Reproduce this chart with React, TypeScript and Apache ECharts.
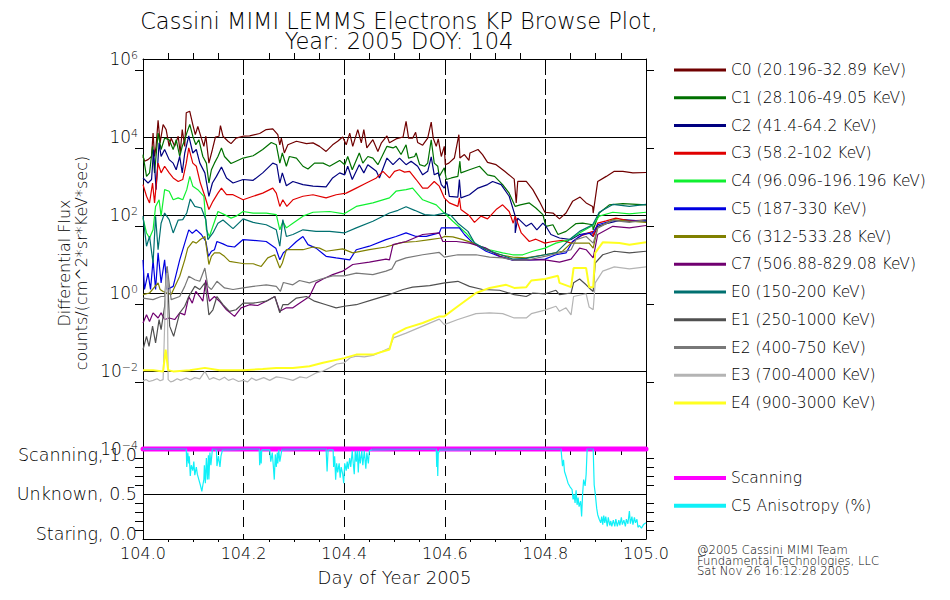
import React, { useEffect, useRef } from "react";
import * as echarts from "echarts";

type P = [number, number];

// Each pair: [fraction of day after DOY 104, log10 of differential flux]
const c0: P[] = [[.000,3.50],[.003,3.38],[.010,3.42],[.017,3.50],[.020,4.10],[.023,3.50],[.026,3.76],[.030,4.43],[.034,3.85],[.040,4.32],[.046,4.19],[.052,3.76],[.056,3.97],[.063,3.76],[.070,4.02],[.074,3.59],[.078,4.19],[.083,3.76],[.086,4.62],[.093,4.66],[.099,4.32],[.104,4.06],[.109,4.27],[.116,3.97],[.121,3.76],[.125,4.02],[.131,3.33],[.138,3.68],[.144,4.00],[.151,4.02],[.154,4.29],[.159,4.02],[.169,3.89],[.175,3.83],[.185,3.97],[.199,4.02],[.212,4.03],[.232,4.09],[.245,4.19],[.258,4.21],[.268,4.06],[.272,3.80],[.275,3.97],[.281,3.59],[.288,3.80],[.305,3.89],[.325,3.83],[.338,3.85],[.351,3.76],[.364,3.63],[.377,3.80],[.387,3.89],[.397,4.00],[.404,3.80],[.411,4.10],[.417,3.76],[.427,4.19],[.434,3.85],[.439,4.19],[.445,3.72],[.457,3.93],[.467,3.63],[.474,3.85],[.485,4.03],[.490,3.85],[.503,3.95],[.517,4.00],[.523,4.40],[.528,3.97],[.536,3.97],[.542,4.12],[.546,3.86],[.556,3.79],[.566,3.97],[.573,4.38],[.577,3.97],[.583,3.76],[.587,3.95],[.593,3.50],[.599,3.76],[.601,3.29],[.608,3.33],[.619,3.46],[.628,4.06],[.630,3.46],[.639,3.55],[.648,3.40],[.650,3.59],[.666,3.68],[.675,3.55],[.685,3.35],[.702,3.29],[.719,3.12],[.738,2.92],[.742,2.31],[.745,2.86],[.762,2.86],[.775,2.65],[.788,2.35],[.799,2.07],[.815,2.05],[.828,1.90],[.841,2.05],[.854,2.35],[.869,2.46],[.881,2.31],[.894,2.22],[.895,2.05],[.904,2.86],[.921,2.99],[.937,3.12],[.954,3.12],[.974,3.08],[1.0,3.09]];
const c1: P[] = [[.000,3.55],[.007,2.99],[.013,3.08],[.019,3.76],[.023,3.08],[.030,4.10],[.036,3.68],[.043,3.97],[.052,3.93],[.060,3.68],[.066,3.93],[.073,3.50],[.078,3.76],[.083,3.93],[.087,4.10],[.093,4.32],[.099,4.02],[.105,3.80],[.111,3.93],[.119,3.50],[.126,3.33],[.131,2.82],[.136,3.16],[.142,3.33],[.149,3.50],[.156,3.72],[.162,3.50],[.175,3.32],[.185,3.38],[.199,3.46],[.219,3.52],[.238,3.68],[.255,3.86],[.265,3.80],[.272,3.33],[.277,3.59],[.285,3.25],[.291,3.50],[.305,3.46],[.318,3.25],[.328,3.18],[.341,3.33],[.358,3.33],[.371,3.25],[.391,3.40],[.401,3.29],[.407,3.50],[.416,3.16],[.430,3.59],[.437,3.33],[.447,3.50],[.457,3.46],[.467,3.29],[.477,3.55],[.485,3.76],[.497,3.72],[.503,3.76],[.513,3.55],[.523,3.80],[.528,3.46],[.540,3.50],[.543,3.59],[.550,3.29],[.560,3.25],[.566,3.33],[.573,3.93],[.579,3.33],[.586,3.25],[.589,2.99],[.599,3.21],[.603,2.91],[.613,2.95],[.626,2.99],[.630,3.38],[.632,3.08],[.649,3.16],[.669,3.25],[.685,3.03],[.699,2.99],[.715,2.78],[.728,2.56],[.740,2.22],[.750,2.26],[.768,2.31],[.781,2.18],[.795,2.01],[.801,1.71],[.815,1.75],[.825,1.50],[.841,1.58],[.861,1.78],[.874,1.79],[.894,1.75],[.895,1.62],[.907,2.05],[.927,2.26],[.954,2.29],[1.0,2.26]];
const c2: P[] = [[.000,2.95],[.010,2.82],[.017,2.91],[.021,3.68],[.026,2.65],[.032,3.85],[.036,3.50],[.043,3.68],[.052,3.42],[.060,3.33],[.066,3.16],[.073,3.50],[.078,3.08],[.083,3.59],[.091,4.03],[.099,3.59],[.106,3.68],[.113,3.33],[.123,3.08],[.131,2.48],[.138,2.82],[.146,2.99],[.156,3.23],[.166,2.95],[.179,2.82],[.199,2.91],[.219,2.89],[.238,3.08],[.258,3.33],[.266,3.29],[.272,2.82],[.277,3.08],[.285,2.75],[.298,2.86],[.318,2.78],[.338,2.74],[.364,2.72],[.377,2.95],[.391,3.08],[.401,3.03],[.407,3.25],[.416,2.91],[.430,3.29],[.439,3.08],[.447,3.29],[.464,3.12],[.470,2.95],[.485,3.46],[.497,3.29],[.510,3.46],[.523,3.29],[.533,3.38],[.546,3.25],[.556,3.03],[.566,3.12],[.573,3.49],[.579,3.03],[.587,3.08],[.593,2.78],[.599,2.69],[.604,2.86],[.609,2.48],[.626,2.46],[.629,2.91],[.632,2.44],[.649,2.52],[.666,2.69],[.685,2.78],[.695,2.86],[.712,2.78],[.728,2.48],[.740,1.97],[.740,1.54],[.745,1.92],[.762,1.71],[.772,1.79],[.783,1.62],[.795,1.79],[.801,1.71],[.811,1.50],[.828,1.41],[.851,1.37],[.868,1.50],[.887,1.54],[.895,1.45],[.904,1.71],[.921,1.78],[.954,1.88],[1.0,1.84]];
const c3: P[] = [[.000,2.78],[.007,2.48],[.013,2.31],[.019,2.82],[.023,2.31],[.030,3.33],[.036,3.08],[.043,3.25],[.052,3.08],[.060,2.95],[.070,2.86],[.079,2.91],[.086,3.33],[.091,3.72],[.099,3.33],[.106,3.25],[.114,2.82],[.123,2.48],[.131,2.14],[.139,2.35],[.149,2.56],[.156,2.69],[.166,2.52],[.179,2.52],[.199,2.39],[.219,2.48],[.238,2.56],[.258,2.69],[.265,2.56],[.272,2.22],[.278,2.39],[.286,2.22],[.298,2.39],[.318,2.48],[.338,2.52],[.364,2.44],[.384,2.52],[.404,2.56],[.424,2.69],[.444,2.82],[.464,2.95],[.477,3.12],[.490,2.95],[.500,3.12],[.510,3.16],[.520,3.10],[.530,3.12],[.543,2.91],[.556,2.69],[.566,2.69],[.579,2.86],[.589,2.74],[.599,2.44],[.609,2.31],[.626,2.22],[.629,2.44],[.632,2.14],[.649,1.98],[.659,1.81],[.672,1.97],[.685,1.90],[.702,2.14],[.715,2.26],[.728,2.09],[.736,1.79],[.740,1.97],[.752,1.54],[.768,1.32],[.781,1.38],[.799,1.28],[.815,1.32],[.834,1.35],[.851,1.28],[.868,1.45],[.894,1.58],[.895,1.45],[.904,1.79],[.921,1.85],[.940,1.92],[.967,1.85],[1.0,1.87]];
const c4: P[] = [[.000,1.92],[.007,1.54],[.013,1.41],[.020,1.62],[.025,2.22],[.032,2.39],[.036,1.97],[.043,2.65],[.052,2.61],[.060,2.39],[.070,2.44],[.079,2.39],[.087,2.65],[.093,2.99],[.099,2.74],[.109,2.65],[.121,2.48],[.126,1.62],[.132,1.45],[.139,1.71],[.149,2.09],[.162,2.01],[.175,1.92],[.185,1.97],[.199,2.09],[.219,2.05],[.245,2.05],[.265,2.01],[.272,1.62],[.278,1.83],[.285,1.67],[.298,1.79],[.318,1.97],[.338,2.07],[.371,2.09],[.400,2.03],[.424,2.22],[.457,2.31],[.490,2.44],[.503,2.61],[.523,2.65],[.536,2.69],[.556,2.39],[.583,2.26],[.599,2.05],[.616,1.84],[.642,1.54],[.662,1.24],[.689,1.11],[.715,1.03],[.735,.98],[.755,.98],[.775,1.07],[.799,1.15],[.821,1.28],[.848,1.37],[.868,1.54],[.894,1.73],[.907,1.97],[.934,2.07],[.967,2.03],[1.0,2.07]];
const c5: P[] = [[.000,.85],[.003,.09],[.010,.51],[.015,.09],[.020,.85],[.025,.09],[.030,1.03],[.036,.26],[.043,.85],[.048,.09],[.060,.17],[.073,.85],[.083,1.28],[.091,1.62],[.098,1.53],[.106,1.62],[.116,1.50],[.125,1.32],[.130,.94],[.136,1.07],[.142,1.11],[.147,1.32],[.159,1.26],[.169,1.20],[.182,1.18],[.199,1.37],[.219,1.35],[.245,1.32],[.264,1.15],[.272,.85],[.279,1.03],[.291,1.15],[.305,1.32],[.318,1.45],[.328,1.24],[.344,1.15],[.364,.94],[.384,.90],[.411,.85],[.424,1.11],[.450,1.20],[.483,1.37],[.503,1.45],[.523,1.54],[.543,1.45],[.563,1.45],[.589,1.54],[.593,1.67],[.599,1.67],[.629,1.67],[.639,1.50],[.656,1.28],[.682,1.07],[.709,.94],[.735,.84],[.762,.84],[.799,.87],[.821,.98],[.841,1.03],[.854,1.32],[.874,1.50],[.894,1.54],[.904,1.75],[.934,1.86],[.967,1.84],[1.0,1.86]];
const c6: P[] = [[.000,-.04],[.013,.00],[.030,.26],[.034,.09],[.040,.04],[.056,-.04],[.073,.43],[.083,.85],[.089,1.15],[.099,1.32],[.106,1.28],[.114,1.37],[.123,1.45],[.131,.73],[.136,.94],[.142,1.03],[.152,1.03],[.162,.94],[.172,.81],[.192,.77],[.202,.75],[.219,.75],[.235,.68],[.248,.90],[.262,.98],[.272,.64],[.277,.77],[.285,1.11],[.298,1.11],[.318,1.11],[.338,1.18],[.351,1.15],[.364,1.07],[.397,1.13],[.417,1.03],[.450,1.11],[.483,1.18],[.510,1.28],[.517,1.30],[.543,1.32],[.570,1.37],[.593,1.41],[.599,1.45],[.616,1.44],[.636,1.37],[.656,1.28],[.682,1.11],[.709,.98],[.735,.92],[.762,.90],[.799,.98],[.834,1.07],[.851,1.28],[.868,1.28],[.887,1.28],[.895,1.15],[.904,1.67],[.934,1.88],[.967,1.84],[1.0,1.81]];
const c7: P[] = [[.000,-.77],[.007,-.56],[.013,-.73],[.020,-.51],[.030,-.64],[.036,-.51],[.043,-.68],[.052,-.64],[.063,-.68],[.073,-.51],[.083,-.56],[.091,-.09],[.098,-.26],[.105,.04],[.113,-.09],[.119,-.21],[.125,.34],[.129,.00],[.132,-.21],[.142,-.09],[.152,-.21],[.166,-.43],[.182,-.60],[.195,-.38],[.212,-.30],[.228,-.32],[.245,-.21],[.262,-.09],[.272,-.47],[.285,-.38],[.298,-.38],[.311,-.26],[.331,-.09],[.344,.26],[.358,.36],[.377,.47],[.397,.56],[.417,.73],[.450,.79],[.483,.87],[.490,.85],[.497,1.24],[.523,1.32],[.556,1.50],[.589,1.54],[.596,1.32],[.623,1.32],[.649,1.28],[.682,1.15],[.709,.94],[.735,.85],[.762,.85],[.799,.85],[.828,.79],[.851,.87],[.868,1.15],[.881,1.11],[.895,.90],[.904,1.50],[.934,1.71],[.967,1.67],[1.0,1.73]];
const e0: P[] = [[.000,1.97],[.007,1.20],[.013,1.45],[.020,.77],[.025,1.97],[.030,1.11],[.036,1.79],[.043,2.05],[.052,1.88],[.060,1.54],[.070,1.87],[.079,1.88],[.087,2.05],[.094,2.41],[.103,2.22],[.116,2.18],[.125,1.88],[.129,1.37],[.139,1.54],[.149,1.79],[.159,1.87],[.179,1.65],[.199,1.90],[.219,1.81],[.245,1.75],[.265,1.62],[.272,1.20],[.278,1.88],[.285,1.45],[.298,1.50],[.318,1.62],[.344,1.58],[.371,1.58],[.400,1.54],[.424,1.67],[.457,1.84],[.490,2.05],[.507,2.12],[.523,2.21],[.540,2.12],[.560,2.01],[.579,1.99],[.599,2.05],[.613,1.98],[.626,1.79],[.646,1.58],[.659,1.29],[.682,1.11],[.712,.98],[.735,.87],[.762,.89],[.799,.98],[.821,1.03],[.848,1.37],[.868,1.58],[.894,1.75],[.907,2.07],[.934,2.27],[.967,2.22],[1.0,2.27]];
const e1: P[] = [[.000,-1.45],[.007,-1.11],[.012,-1.37],[.019,-.85],[.025,-1.28],[.032,-.68],[.036,-.94],[.043,-.34],[.048,.68],[.053,-.85],[.061,-1.11],[.073,-.51],[.083,-.34],[.091,-.09],[.103,.17],[.113,.09],[.123,.26],[.127,-.09],[.131,-.56],[.139,-.43],[.147,-.09],[.159,-.30],[.172,-.47],[.185,-.43],[.199,-.26],[.219,-.26],[.245,-.21],[.262,-.09],[.272,-.51],[.278,-.30],[.288,-.30],[.305,-.13],[.325,-.09],[.341,-.21],[.364,-.30],[.384,-.38],[.400,-.34],[.424,-.30],[.457,-.17],[.490,-.04],[.517,.09],[.536,.15],[.570,.19],[.600,.26],[.626,.30],[.649,.17],[.675,.09],[.709,.07],[.738,-.04],[.762,-.09],[.775,.00],[.799,-.02],[.821,.07],[.828,-.04],[.851,.00],[.856,.26],[.868,.36],[.881,.21],[.887,.13],[.895,.04],[.899,.77],[.914,.98],[.937,1.07],[.967,1.03],[1.0,1.07]];
const e2: P[] = [[.000,-.13],[.020,-.17],[.036,-.09],[.043,-.09],[.048,.68],[.056,-.17],[.073,-.09],[.083,.17],[.091,.43],[.103,.34],[.113,.30],[.123,.64],[.129,.17],[.136,.09],[.147,.30],[.162,.13],[.179,.09],[.199,.13],[.219,.17],[.245,.21],[.265,.17],[.273,.04],[.279,.27],[.298,.21],[.311,.32],[.331,.26],[.354,.36],[.377,.44],[.400,.44],[.424,.51],[.457,.47],[.483,.56],[.495,.62],[.503,.81],[.523,.90],[.556,.98],[.589,1.04],[.599,.92],[.626,.98],[.662,.98],[.689,.92],[.715,.90],[.738,.84],[.762,.84],[.799,.94],[.828,1.03],[.851,1.11],[.861,1.37],[.881,1.45],[.895,1.28],[.904,1.67],[.934,1.86],[.967,1.81],[1.0,1.88]];
const e3: P[] = [[.000,-2.26],[.006,-2.22],[.012,-2.27],[.020,-2.24],[.028,-2.20],[.034,-2.25],[.040,-2.22],[.045,.09],[.048,.51],[.050,-2.22],[.055,-2.28],[.060,-2.26],[.068,-2.20],[.075,-2.24],[.086,-2.18],[.094,-2.23],[.103,-2.17],[.113,-2.20],[.123,-2.01],[.132,-2.22],[.140,-2.17],[.152,-2.23],[.162,-2.16],[.170,-2.24],[.179,-2.20],[.190,-2.27],[.199,-2.24],[.208,-2.28],[.216,-2.18],[.225,-2.24],[.240,-2.17],[.252,-2.24],[.265,-2.15],[.280,-2.18],[.298,-2.24],[.312,-2.15],[.325,-2.18],[.344,-2.05],[.358,-2.00],[.371,-1.92],[.385,-1.82],[.400,-1.79],[.412,-1.66],[.424,-1.62],[.440,-1.64],[.457,-1.60],[.475,-1.50],[.490,-1.41],[.498,-1.15],[.523,-1.03],[.556,-.85],[.589,-.67],[.599,-.81],[.626,-.68],[.662,-.53],[.689,-.51],[.715,-.53],[.738,-.64],[.762,-.64],[.772,-.53],[.799,-.44],[.821,-.34],[.828,-.47],[.841,-.38],[.851,-.56],[.856,-.09],[.881,-.02],[.887,-.36],[.895,-.43],[.899,.26],[.914,.56],[.937,.67],[.967,.62],[1.0,.67]];
const e4: P[] = [[.000,-1.98],[.020,-1.98],[.040,-2.01],[.045,-1.45],[.050,-1.98],[.060,-2.01],[.093,-1.98],[.123,-1.92],[.152,-1.98],[.199,-1.98],[.238,-1.95],[.265,-1.92],[.298,-1.92],[.331,-1.88],[.358,-1.79],[.400,-1.67],[.424,-1.58],[.457,-1.58],[.490,-1.45],[.498,-1.07],[.523,-.90],[.556,-.77],[.589,-.60],[.599,-.60],[.626,-.34],[.662,.00],[.689,.13],[.722,.21],[.738,.13],[.762,.15],[.772,.32],[.799,.36],[.825,.44],[.828,.26],[.851,.15],[.856,.64],[.881,.64],[.887,.15],[.895,.15],[.899,1.03],[.914,1.30],[.947,1.28],[.967,1.24],[1.0,1.30]];
// [fraction of day, value on the lower axis]
const anisotropy: P[] = [[.000,1],[.086,1],[.087,.80],[.089,.96],[.091,.84],[.092,.92],[.094,.70],[.096,.82],[.099,.76],[.101,.86],[.103,.71],[.106,.80],[.108,.72],[.111,.66],[.114,.60],[.117,.53],[.119,.60],[.121,.66],[.122,.82],[.124,.62],[.126,.90],[.128,.66],[.130,.93],[.131,.66],[.133,.96],[.135,.82],[.138,1],[.146,.99],[.147,.81],[.150,.92],[.153,.80],[.155,.92],[.158,.99],[.231,1],[.232,.82],[.234,.98],[.235,.84],[.236,.99],[.252,.99],[.254,.86],[.257,.96],[.259,.82],[.261,.66],[.263,.94],[.265,.80],[.267,.96],[.268,.84],[.270,.99],[.272,.86],[.276,.99],[.364,1],[.366,.75],[.368,.99],[.378,.99],[.379,.80],[.381,.92],[.383,.66],[.385,.84],[.387,.74],[.390,.84],[.392,.68],[.394,.80],[.397,.72],[.399,.62],[.401,.84],[.404,.76],[.406,.86],[.408,.78],[.411,.90],[.413,.80],[.416,.98],[.418,.84],[.420,.72],[.422,.98],[.424,.86],[.426,.98],[.428,.74],[.430,.98],[.432,.84],[.435,.98],[.437,.82],[.440,.98],[.443,.78],[.445,.96],[.448,.84],[.450,.98],[.455,.99],[.583,1],[.584,.80],[.585,.98],[.586,.70],[.587,.95],[.590,.99],[.831,1],[.834,.81],[.836,.88],[.838,.75],[.842,.68],[.845,.62],[.849,.58],[.853,.55],[.855,.44],[.857,.50],[.859,.40],[.861,.54],[.863,.38],[.865,.46],[.867,.36],[.870,.42],[.872,.25],[.874,.50],[.876,.66],[.879,.59],[.881,.72],[.883,1],[.895,1],[.897,.60],[.899,.51],[.902,.34],[.904,.27],[.907,.22],[.910,.18],[.912,.25],[.914,.16],[.916,.26],[.918,.18],[.920,.25],[.923,.14],[.925,.24],[.928,.15],[.930,.20],[.932,.14],[.935,.21],[.938,.14],[.940,.22],[.943,.14],[.946,.21],[.948,.15],[.951,.24],[.953,.16],[.956,.21],[.959,.14],[.961,.22],[.964,.17],[.967,.31],[.969,.17],[.972,.25],[.974,.16],[.977,.24],[.979,.18],[.982,.22],[.984,.13],[.987,.15],[.991,.12],[.995,.16],[1.0,.18]];
const scanning: P[] = [[.000,1],[1.0,1]];
// stretches of the day in which the anisotropy trace lies on the scanning line
const flatStretches: P[] = [[.000,.086],[.138,.231],[.276,.364],[.455,.583],[.590,.831],[.883,.895]];

const fluxNames = ["C0 (20.196-32.89 KeV)","C1 (28.106-49.05 KeV)","C2 (41.4-64.2 KeV)","C3 (58.2-102 KeV)","C4 (96.096-196.196 KeV)","C5 (187-330 KeV)","C6 (312-533.28 KeV)","C7 (506.88-829.08 KeV)","E0 (150-200 KeV)","E1 (250-1000 KeV)","E2 (400-750 KeV)","E3 (700-4000 KeV)","E4 (900-3000 KeV)"];
const fluxColors = ["#700000","#007000","#000080","#e00000","#10f030","#0000e0","#808000","#700070","#007070","#505050","#787878","#b4b4b4","#ffff20"];
const fluxWidths = [1.2,1.2,1.2,1.2,1.2,1.2,1.2,1.2,1.2,1.2,1.2,1.2,2];
const fluxData = [c0,c1,c2,c3,c4,c5,c6,c7,e0,e1,e2,e3,e4];
const lowerNames = ["Scanning","C5 Anisotropy (%)"];
const lowerColors = ["#ff00ff","#10f0f8"];
const titleText = "Cassini MIMI LEMMS Electrons KP Browse Plot,\nYear: 2005 DOY: 104";
const yNameText = "Differential Flux\ncounts/(cm^2*sr*KeV*sec)";
const xNameText = "Day of Year 2005";
const footerText = "@2005 Cassini MIMI Team\nFundamental Technologies, LLC\nSat Nov 26 16:12:28 2005";
const stateLabels: Record<string, string> = { "0": "Staring, 0.0", "0.5": "Unknown, 0.5", "1": "Scanning, 1.0" };

const FONT = "DejaVu Sans";
const W = 200;

export default function App() {
  const ref = useRef<HTMLDivElement>(null);
  useEffect(() => {
    const chart = echarts.init(ref.current!, null, { renderer: "svg" });
    const black = "#000";
    const xBase = {
      type: "value", min: 104, max: 105, interval: 0.2,
      axisLine: { onZero: false, lineStyle: { color: black, width: 1 } },
      axisTick: { show: false },
      minorTick: { show: true, splitNumber: 4, length: 6, lineStyle: { color: black } },
      splitLine: { show: false },
      minorSplitLine: { show: false },
      axisLabel: { show: false },
    };
    const logBase = {
      type: "log", logBase: 10, min: 1e-4, max: 1e6, interval: 2,
      axisLine: { onZero: false, lineStyle: { color: black } },
      axisTick: { show: false },
      minorTick: { show: true, splitNumber: 2, length: 8, lineStyle: { color: black } },
    };
    const linBase = {
      type: "value", min: 0, max: 1, interval: 0.5,
      axisLine: { onZero: false, lineStyle: { color: black } },
      axisTick: { show: false },
      minorTick: { show: true, splitNumber: 5, length: 8, lineStyle: { color: black } },
    };
    const flatData: (number[] | null[])[] = [];
    flatStretches.forEach(([a, b]) => {
      flatData.push([104 + a, 1], [104 + b, 1], [104 + b, null as any]);
    });
    chart.setOption({
      animation: false,
      backgroundColor: "#fff",
      textStyle: { fontFamily: FONT, fontWeight: W, color: black },
      title: {
        text: titleText, left: 394, top: 6, textAlign: "center",
        textStyle: { fontFamily: FONT, fontWeight: W, fontSize: 22.5, lineHeight: 20, color: black },
      },
      grid: [
        { left: 143, top: 59, width: 503, height: 390 },
        { left: 143, top: 449, width: 503, height: 90 },
      ],
      xAxis: [
        { ...xBase, gridIndex: 0, position: "bottom",
          splitLine: { show: true, lineStyle: { color: black, type: [16, 4] } } },
        { ...xBase, gridIndex: 0, position: "top" },
        { ...xBase, gridIndex: 1, position: "bottom",
          minorTick: { show: true, splitNumber: 4, length: 3, lineStyle: { color: black } },
          splitLine: { show: true, lineStyle: { color: black, type: [10, 7] } },
          axisLabel: { show: true, margin: 6, color: black, fontFamily: FONT, fontWeight: W, fontSize: 16,
            formatter: (v: number) => v.toFixed(1) },
          name: xNameText, nameLocation: "middle", nameGap: 29,
          nameTextStyle: { color: black, fontFamily: FONT, fontWeight: W, fontSize: 18 } },
      ],
      yAxis: [
        { ...logBase, gridIndex: 0, position: "left",
          splitLine: { show: true, lineStyle: { color: black } },
          axisLabel: { show: true, margin: 5, color: black,
            formatter: (v: number) => `{b|10}{s|${Math.round(Math.log10(v)).toString().replace("-", "\u2212")}}`,
            rich: { b: { fontFamily: FONT, fontWeight: W, fontSize: 17, color: black },
                    s: { fontFamily: FONT, fontWeight: W, fontSize: 11, color: black, verticalAlign: "top", padding: [0, 0, 8, 0] } } } },
        { ...logBase, gridIndex: 0, position: "right", splitLine: { show: false }, axisLabel: { show: false } },
        { ...linBase, gridIndex: 1, position: "left",
          splitLine: { show: true, lineStyle: { color: black } },
          axisLabel: { show: true, margin: 6, color: black, fontFamily: FONT, fontWeight: W, fontSize: 17.5, lineHeight: 11,
            verticalAlignMinLabel: "bottom", verticalAlignMaxLabel: "top",
            formatter: (v: number) => stateLabels[String(v)] ?? "" } },
        { ...linBase, gridIndex: 1, position: "right", splitLine: { show: false }, axisLabel: { show: false } },
      ],
      legend: [
        { data: fluxNames, orient: "vertical", left: 669, top: 56, itemWidth: 52, itemHeight: 3, itemGap: 9.75,
          icon: "rect", textStyle: { color: black, fontFamily: FONT, fontWeight: W, fontSize: 15.5, lineHeight: 18 }, selectedMode: false },
        { data: lowerNames, orient: "vertical", left: 669, top: 464, itemWidth: 52, itemHeight: 4, itemGap: 9.75,
          icon: "rect", textStyle: { color: black, fontFamily: FONT, fontWeight: W, fontSize: 15.5, lineHeight: 18 }, selectedMode: false },
      ],
      graphic: [
        { type: "text", x: 73, y: 263, rotation: Math.PI / 2,
          style: { text: yNameText, align: "center", verticalAlign: "middle", fontFamily: FONT, fontWeight: W, fontSize: 16, lineHeight: 17, fill: black } },
        { type: "text", x: 697, y: 545,
          style: { text: footerText, fontFamily: FONT, fontWeight: W, fontSize: 11.6, lineHeight: 10.5, fill: black } },
      ],
      series: [
        ...fluxNames.map((name, i) => ({
          name, type: "line", xAxisIndex: 0, yAxisIndex: 0, showSymbol: false, silent: true,
          itemStyle: { color: fluxColors[i] },
          lineStyle: { color: fluxColors[i], width: fluxWidths[i] },
          data: fluxData[i].map(([d, e]) => [104 + d, Math.pow(10, e)]),
        })),
        { name: lowerNames[0], type: "line", xAxisIndex: 2, yAxisIndex: 2, showSymbol: false, silent: true, clip: false,
          itemStyle: { color: lowerColors[0] }, lineStyle: { color: lowerColors[0], width: 5, cap: "round" },
          data: scanning.map(([d, v]) => [104 + d, v]) },
        { name: lowerNames[1], type: "line", xAxisIndex: 2, yAxisIndex: 2, showSymbol: false, silent: true, clip: false,
          itemStyle: { color: lowerColors[1] }, lineStyle: { color: lowerColors[1], width: 1.2 },
          data: anisotropy.map(([d, v]) => [104 + d, v]) },
        { name: "flat", type: "line", xAxisIndex: 2, yAxisIndex: 2, showSymbol: false, silent: true, clip: false,
          itemStyle: { color: "#8a5cf0" }, lineStyle: { color: "#8a5cf0", width: 1.6 },
          data: flatData },
      ],
    });
    return () => chart.dispose();
  }, []);
  return <div ref={ref} style={{ position: "absolute", left: 0, top: 0, width: 950, height: 600, background: "#fff" }} />;
}
